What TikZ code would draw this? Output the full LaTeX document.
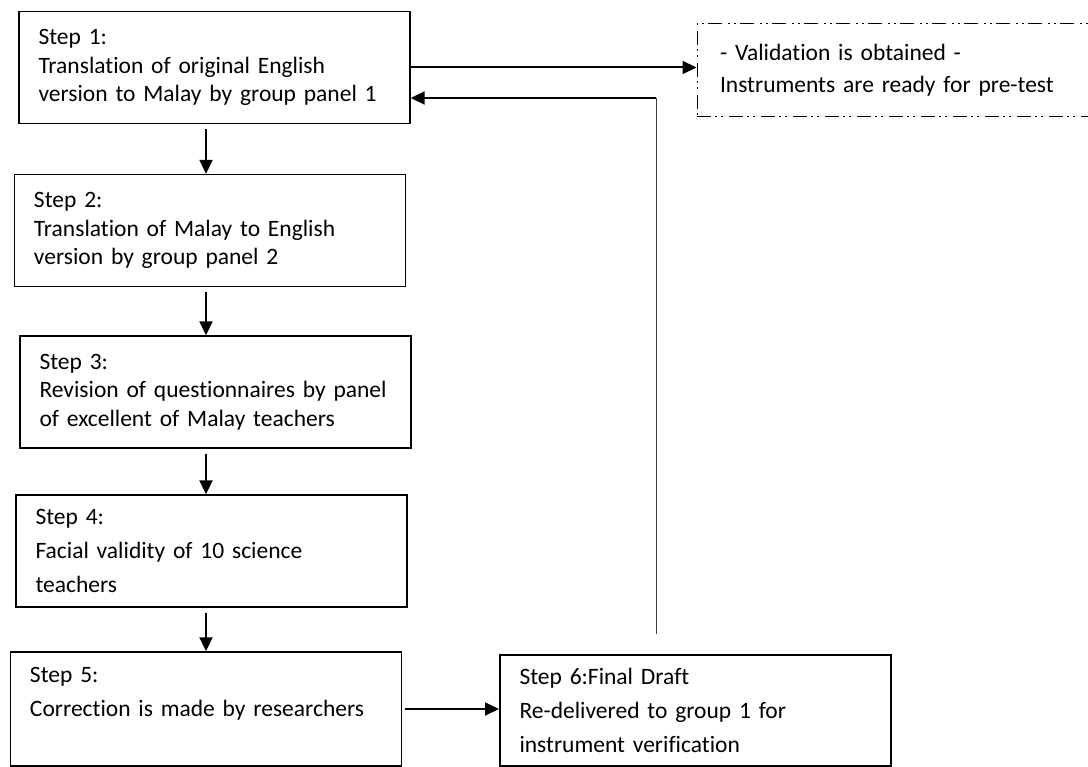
\documentclass[tikz,border=0pt]{standalone}
\usepackage{fontspec}
\setmainfont[RawFeature={-liga;-clig;-calt},WordSpace=0.75]{Carlito}
\usetikzlibrary{arrows.meta}
\begin{document}
\begin{tikzpicture}[x=1pt,y=-1pt,
    stepbox/.style={draw,line width=1.4pt,rectangle,align=left,inner xsep=19.5pt,inner ysep=0pt,
      minimum height=112pt,text width=352pt,font=\fontsize{23.5}{28.5}\selectfont},
    widebox/.style={stepbox,font=\fontsize{23.5}{34}\selectfont},
    validbox/.style={rectangle,align=left,inner xsep=23pt,inner ysep=0pt,minimum height=93pt,
      text width=352pt,font=\fontsize{23.5}{32}\selectfont,draw,line width=1pt,
      dash pattern=on 14pt off 4pt on 2pt off 4pt on 2pt off 6pt},
    flow/.style={line width=2pt,-{Triangle[length=14pt,width=13pt]}}]
  \useasboundingbox (0,0) rectangle (1088,767);
  \node[stepbox] (s1) at (214.5,67.5) {Step 1:\\Translation of original English\\version to Malay by group panel 1};
  \node[stepbox] (s2) at (210,230.5) {Step 2:\\Translation of Malay to English\\version by group panel 2};
  \node[stepbox] (s3) at (215.5,392) {Step 3:\\Revision of questionnaires by panel\\of excellent of Malay teachers};
  \node[widebox] (s4) at (211.5,551) {Step 4:\\Facial validity of 10 science\\teachers};
  \node[widebox,minimum height=114pt] (s5) at (206,709) {Step 5:\\Correction is made by researchers\\\mbox{}};
  \node[widebox,line width=2pt,minimum height=111pt] (s6) at (695.5,710.5) {Step 6:Final Draft\\Re-delivered to group 1 for\\instrument verification};
  \node[validbox] (valid) at (896,70.5) {- Validation is obtained -\\Instruments are ready for pre-test};
  \coordinate (col) at (206,0);
  \foreach \a/\b in {s1/s2,s2/s3,s3/s4,s4/s5}
    \draw[flow,shorten <=5pt] (\a.south -| col) -- (\b.north -| col);
  \draw[flow,shorten <=3pt] (s5.east) -- (s5.east -| s6.west);
  \draw[flow] (s1.east) -- (s1.east -| valid.west);
  \coordinate (back) at (656,634);
  \coordinate (backin) at ([yshift=-30.5pt]s1.east);
  \draw[line width=1pt,black!75] (back) -- (back |- backin);
  \draw[flow] (back |- backin) -- (backin);
\end{tikzpicture}
\end{document}
